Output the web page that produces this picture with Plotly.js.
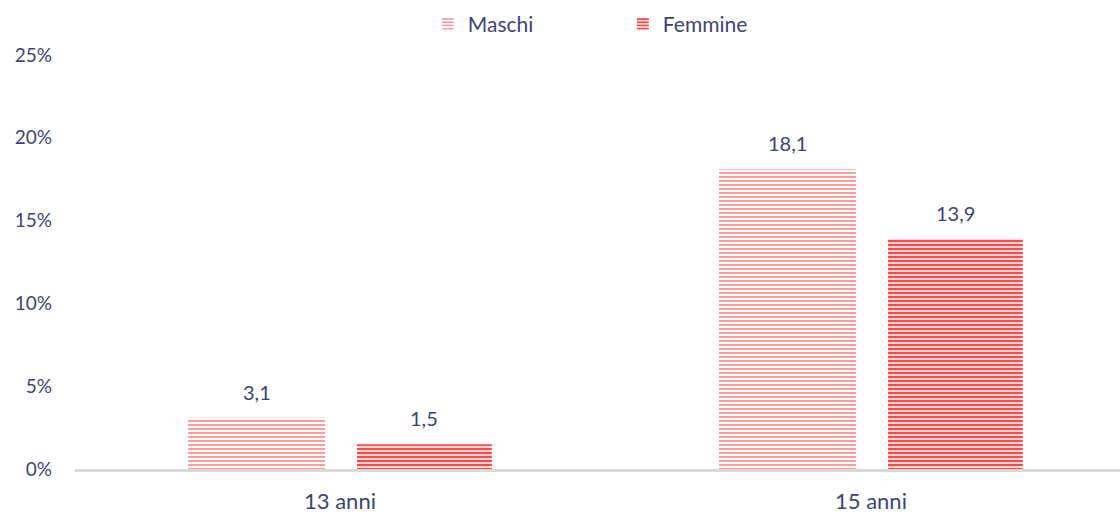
<!DOCTYPE html>
<html>
<head>
<meta charset="utf-8">
<script src="https://cdn.plot.ly/plotly-3.0.1.min.js"></script>
<style>html,body{margin:0;padding:0;background:#fff}#chart{width:1120px;height:515px}</style>
</head>
<body>
<div id="chart"></div>
<script>
const categories = ["13 anni", "15 anni"];
const seriesNames = ["Maschi", "Femmine"];
const maschi = [3.1, 18.1];
const femmine = [1.5, 13.9];
const yTicks = [0, 5, 10, 15, 20, 25];

const textColor = "#3A4577";
const font = "Lato, 'Open Sans', sans-serif";
const xIdx = categories.map((c, i) => i);

const styles = [
  {color: "#FF9B9B", offset: -0.286, width: 0.258, solidity: 0.5},
  {color: "#FF4747", offset: 0.032, width: 0.254, solidity: 0.6}
];
const allSeries = [maschi, femmine];

const traces = allSeries.map((vals, s) => ({
  type: "bar",
  name: seriesNames[s],
  x: xIdx,
  y: vals,
  offset: styles[s].offset,
  width: styles[s].width,
  marker: {
    color: "#ffffff",
    line: {width: 0},
    pattern: {shape: "-", fgcolor: styles[s].color, bgcolor: "#ffffff", size: 4, solidity: styles[s].solidity, fillmode: "replace"}
  },
  hoverinfo: "skip"
}));

const annotations = [];
allSeries.forEach((vals, s) => {
  vals.forEach((v, i) => {
    annotations.push({
      x: i + styles[s].offset + styles[s].width / 2,
      y: v,
      xref: "x", yref: "y",
      text: v.toFixed(1).replace(".", ","),
      showarrow: false,
      yanchor: "bottom",
      yshift: 12,
      font: {family: font, size: 20, color: textColor}
    });
  });
});

const layout = {
  width: 1120, height: 515,
  margin: {l: 75, r: 0, t: 55, b: 46},
  paper_bgcolor: "#fff", plot_bgcolor: "#fff",
  font: {family: font, size: 18, color: textColor},
  barmode: "overlay",
  showlegend: true,
  legend: {
    orientation: "h", x: 0.382, xref: "container", xanchor: "left",
    y: 0.953, yref: "container", yanchor: "middle",
    font: {family: font, size: 21, color: textColor},
    entrywidth: 150, entrywidthmode: "pixels",
    itemwidth: 30
  },
  xaxis: {
    range: [-0.499, 1.469],
    tickvals: xIdx, ticktext: categories,
    showgrid: false, zeroline: false,
    showline: true, linecolor: "#D9D9D9", linewidth: 3,
    ticks: "", ticklabelstandoff: 11,
    tickfont: {family: font, size: 22, color: textColor},
    fixedrange: true
  },
  yaxis: {
    range: [0, 25],
    tickvals: yTicks, ticktext: yTicks.map(t => t + "%"),
    showgrid: false, zeroline: false, showline: false,
    ticks: "", ticklabelstandoff: 22,
    tickfont: {family: font, size: 19, color: textColor},
    fixedrange: true
  },
  annotations: annotations
};

Plotly.newPlot("chart", traces, layout, {displayModeBar: false, staticPlot: true});
</script>
</body>
</html>
